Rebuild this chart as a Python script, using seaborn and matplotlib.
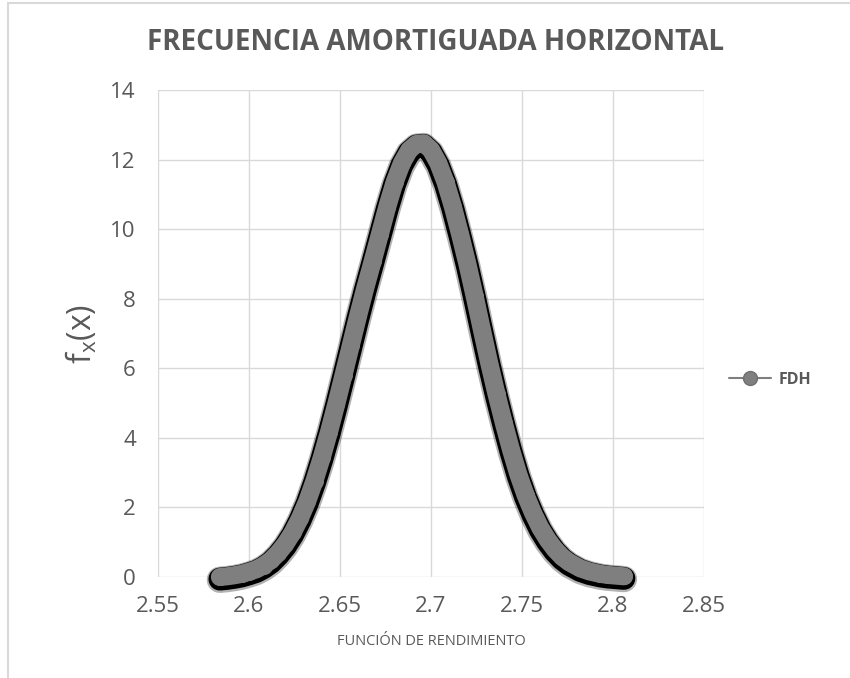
import matplotlib
matplotlib.use("Agg")
import matplotlib.pyplot as plt
import matplotlib.patheffects as pe
from matplotlib.lines import Line2D
import seaborn as sns
import pandas as pd

# values
fdh_x = [2.584, 2.588, 2.592, 2.596, 2.600, 2.604, 2.608, 2.612, 2.616, 2.620,
         2.624, 2.628, 2.632, 2.636, 2.640, 2.644, 2.648, 2.652, 2.656, 2.660,
         2.664, 2.668, 2.672, 2.676, 2.680, 2.684, 2.688, 2.692, 2.696, 2.700,
         2.704, 2.708, 2.712, 2.716, 2.720, 2.724, 2.728, 2.732, 2.736, 2.740,
         2.744, 2.748, 2.752, 2.756, 2.760, 2.764, 2.768, 2.772, 2.776, 2.782,
         2.787, 2.793, 2.797, 2.806]
fdh_y = [0.00, 0.02, 0.05, 0.09, 0.15, 0.22, 0.33, 0.48, 0.69, 0.95,
         1.28, 1.69, 2.18, 2.77, 3.44, 4.18, 4.98, 5.82, 6.67, 7.52,
         8.33, 9.09, 9.87, 10.65, 11.35, 11.90, 12.27, 12.45, 12.47, 12.28,
         11.90, 11.35, 10.65, 9.85, 9.00, 8.07, 7.10, 6.15, 5.26, 4.43,
         3.65, 2.95, 2.35, 1.85, 1.42, 1.08, 0.80, 0.58, 0.42, 0.25,
         0.16, 0.09, 0.06, 0.02]

x_ticks = [2.55, 2.6, 2.65, 2.7, 2.75, 2.8, 2.85]
x_tick_labels = ["2.55", "2.6", "2.65", "2.7", "2.75", "2.8", "2.85"]
y_ticks = [0, 2, 4, 6, 8, 10, 12, 14]

df = pd.DataFrame({"x": fdh_x, "fdh": fdh_y})

sns.set_theme(style="whitegrid")
plt.rcParams["font.family"] = ["Open Sans", "DejaVu Sans"]
text_gray = "#595959"
fdh_gray = "#7f7f7f"

fig = plt.figure(figsize=(8.5, 6.78), dpi=100)
ax = fig.add_axes([158 / 850, 1 - 577 / 678, (704 - 158) / 850, (577 - 90) / 678])

# dense markers merge into a thick band with a dark shadow under it
sns.lineplot(data=df, x="x", y="fdh", ax=ax, color=fdh_gray, linewidth=13,
             solid_capstyle="round", solid_joinstyle="round", sort=False,
             path_effects=[pe.Stroke(linewidth=19, foreground="black", alpha=0.3, offset=(0, -2)),
                           pe.Stroke(linewidth=16.5, foreground="black", offset=(0, -1.5)),
                           pe.Normal()])
sns.scatterplot(data=df, x="x", y="fdh", ax=ax, color=fdh_gray, s=150,
                linewidth=0, zorder=3)
for ln in ax.lines:
    ln.set_clip_on(False)
for coll in ax.collections:
    coll.set_clip_on(False)

ax.set_xlim(2.55, 2.85)
ax.set_ylim(0, 14)
ax.set_xticks(x_ticks)
ax.set_xticklabels(x_tick_labels)
ax.set_yticks(y_ticks)
ax.grid(True, color="#d9d9d9", linewidth=1)
ax.set_axisbelow(True)
for s in ax.spines.values():
    s.set_visible(False)
ax.tick_params(axis="both", length=0, labelsize=16, labelcolor=text_gray)
ax.tick_params(axis="y", pad=16)
ax.tick_params(axis="x", pad=14)

ax.set_xlabel("FUNCIÓN DE RENDIMIENTO", fontsize=10.5, color=text_gray, labelpad=12)
ax.set_ylabel(r"$\mathregular{f_x(x)}$", fontsize=23, color=text_gray, labelpad=8)

fig.text(436 / 850, 1 - 42 / 678, "FRECUENCIA AMORTIGUADA HORIZONTAL",
         ha="center", va="center", fontsize=20, fontweight="bold", color=text_gray)

handle = Line2D([], [], color=fdh_gray, linewidth=1.5, marker="o", markersize=10,
                markerfacecolor=fdh_gray, markeredgecolor="#6f6f6f")
leg = ax.legend([handle], ["FDH"], loc="center left", bbox_to_anchor=(1.02, 0.405),
                frameon=False, handlelength=2.6, handletextpad=0.5,
                prop={"size": 11.5, "weight": "bold"})
for t in leg.get_texts():
    t.set_color(text_gray)

# chart area border (light gray, top and left edges visible)
fig.add_artist(Line2D([8 / 850, 8 / 850], [0, 1 - 3 / 678], transform=fig.transFigure,
                      color="#d9d9d9", linewidth=1.5))
fig.add_artist(Line2D([8 / 850, 1], [1 - 3 / 678, 1 - 3 / 678], transform=fig.transFigure,
                      color="#d9d9d9", linewidth=1.5))

fig.savefig("out.png", dpi=100)
plt.close(fig)
